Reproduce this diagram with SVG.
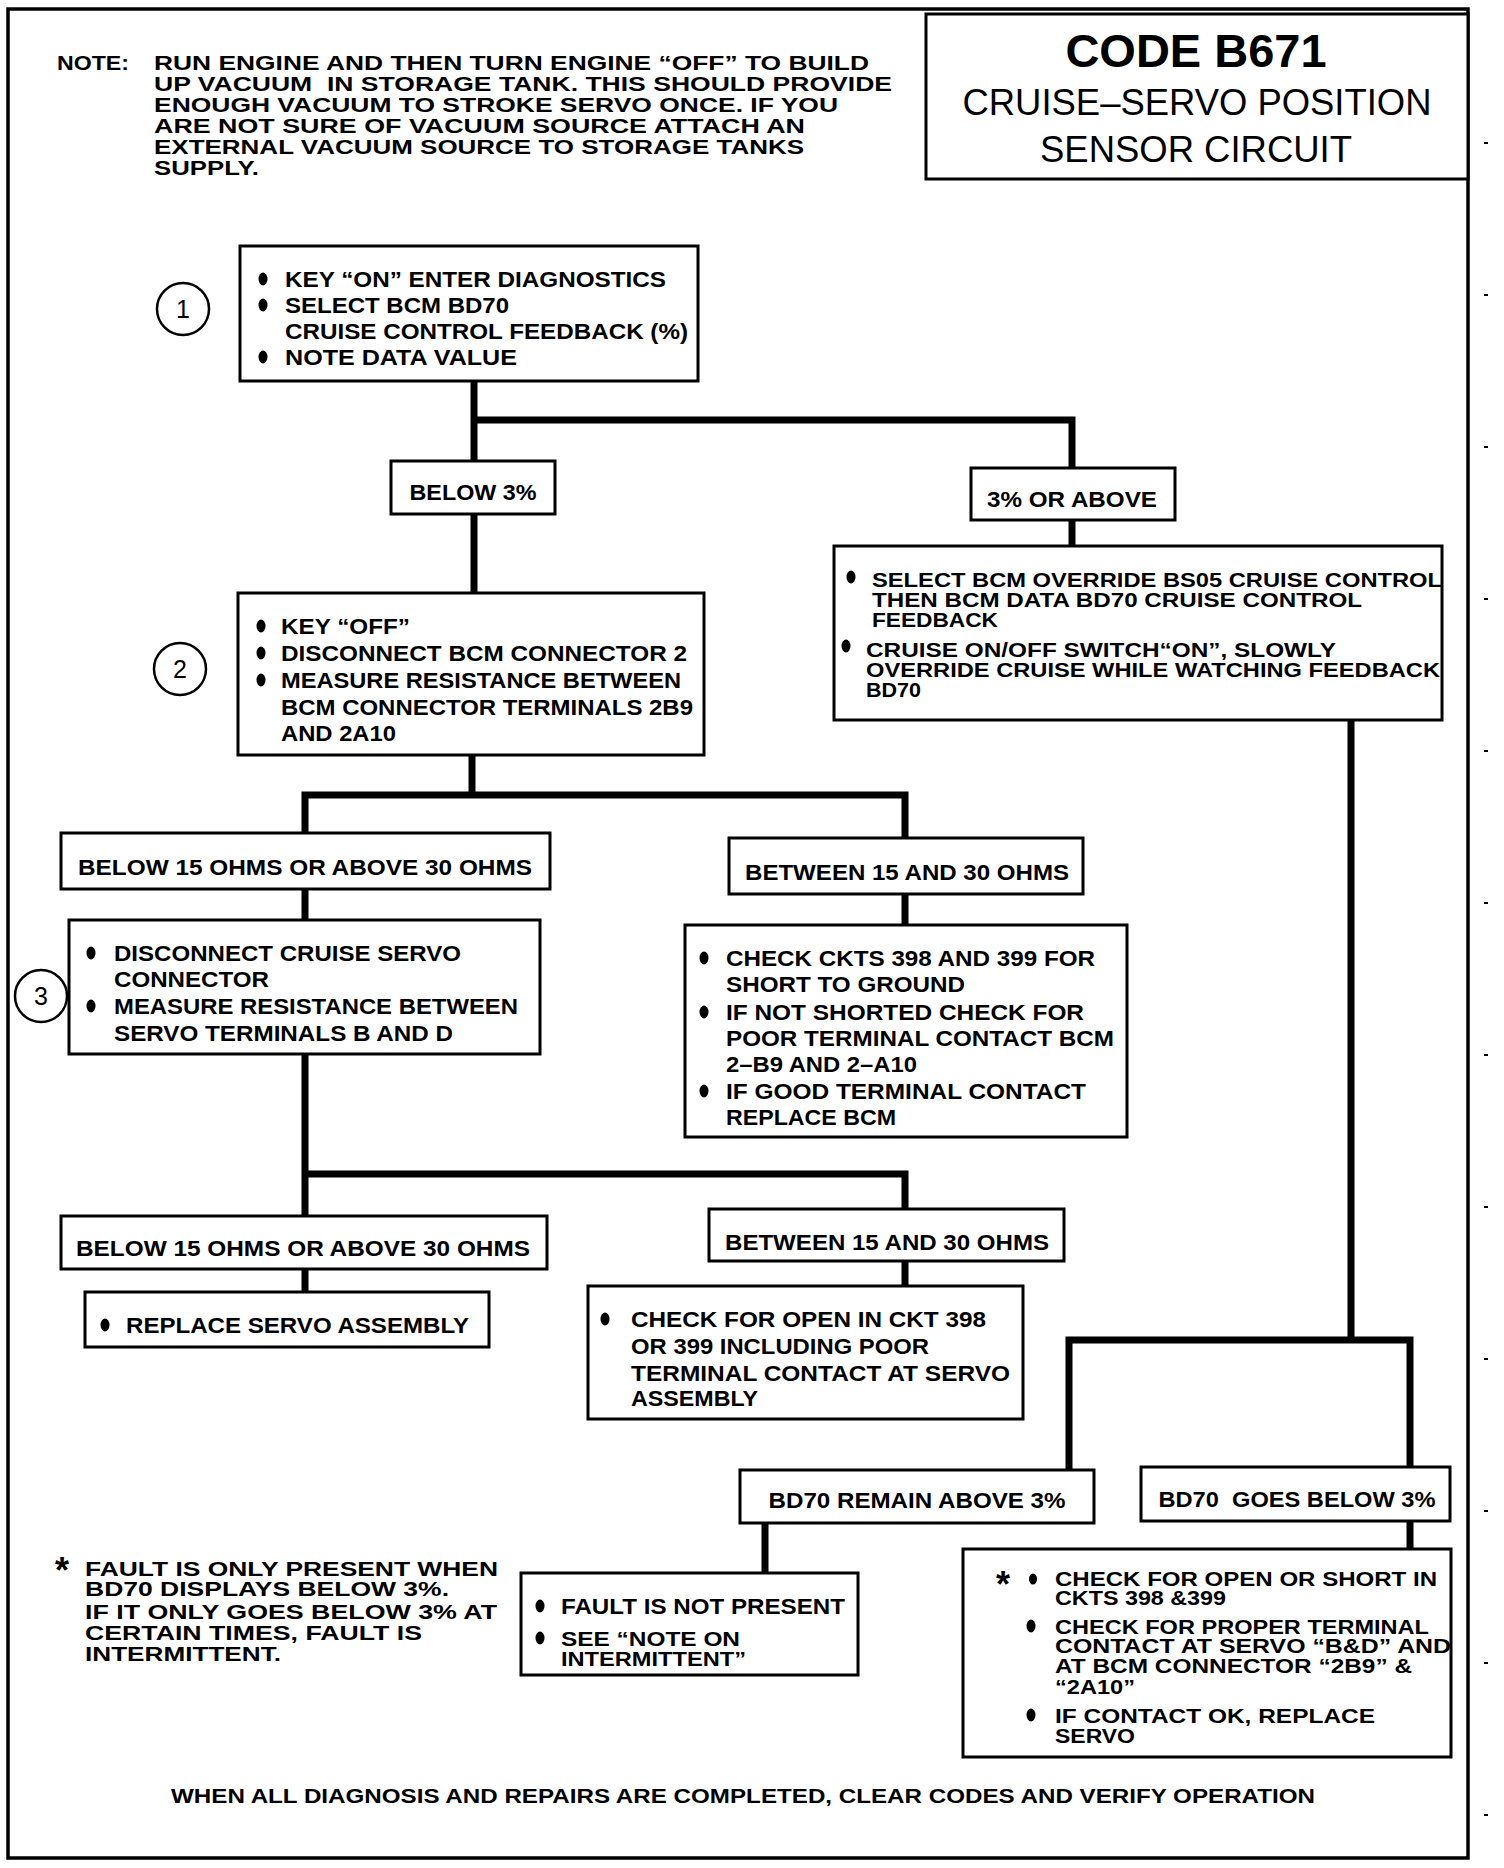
<svg xmlns="http://www.w3.org/2000/svg" width="1504" height="1868" viewBox="0 0 1504 1868">
<style>
.bg{fill:#fff}
.frame{fill:none;stroke:#000;stroke-width:3.5}
.box{fill:#fff;stroke:#000;stroke-width:3}
.conn{fill:none;stroke:#000;stroke-width:7;stroke-linecap:square;stroke-linejoin:miter}
.t{font-family:"Liberation Sans",Arial,Helvetica,sans-serif;font-weight:bold;font-size:22px;fill:#000}
.n{font-size:19.5px}
.s{font-size:20px}
.f{font-size:19.5px}
.big{font-size:47px}
.ast{font-size:36px}
.foot{font-size:21px}
.tr{font-family:"Liberation Sans",Arial,Helvetica,sans-serif;font-weight:normal;fill:#000}
.ttl{font-size:36px}
.num{font-size:25px}
.c{text-anchor:middle}
.circ{fill:#fff;stroke:#000;stroke-width:2.5}
.dot{fill:#000}
.tick{stroke:#000;stroke-width:2}
</style>
<rect class="bg" x="0" y="0" width="1504" height="1868"/>
<rect class="frame" x="8" y="9" width="1460" height="1849"/>
<g id="ticks">
<line class="tick" x1="1484" y1="143" x2="1488" y2="143"/>
<line class="tick" x1="1484" y1="295" x2="1488" y2="295"/>
<line class="tick" x1="1484" y1="447" x2="1488" y2="447"/>
<line class="tick" x1="1484" y1="599" x2="1488" y2="599"/>
<line class="tick" x1="1484" y1="751" x2="1488" y2="751"/>
<line class="tick" x1="1484" y1="903" x2="1488" y2="903"/>
<line class="tick" x1="1484" y1="1055" x2="1488" y2="1055"/>
<line class="tick" x1="1484" y1="1207" x2="1488" y2="1207"/>
<line class="tick" x1="1484" y1="1359" x2="1488" y2="1359"/>
<line class="tick" x1="1484" y1="1511" x2="1488" y2="1511"/>
<line class="tick" x1="1484" y1="1663" x2="1488" y2="1663"/>
<line class="tick" x1="1484" y1="1815" x2="1488" y2="1815"/>
</g>
<g id="title">
<rect class="box" x="926" y="14" width="542" height="165"/>
<text class="t big c" x="1196" y="67">CODE B671</text>
<text class="tr ttl c" x="1197" y="115" textLength="469" lengthAdjust="spacingAndGlyphs">CRUISE–SERVO POSITION</text>
<text class="tr ttl c" x="1196" y="162" textLength="312" lengthAdjust="spacingAndGlyphs">SENSOR CIRCUIT</text>
</g>
<g id="note">
<text class="t n" x="57" y="70" textLength="72" lengthAdjust="spacingAndGlyphs">NOTE:</text>
<text class="t n" x="154" y="70" textLength="715" lengthAdjust="spacingAndGlyphs">RUN ENGINE AND THEN TURN ENGINE “OFF” TO BUILD</text>
<text class="t n" x="154" y="91" textLength="738" lengthAdjust="spacingAndGlyphs">UP VACUUM&#160; IN STORAGE TANK. THIS SHOULD PROVIDE</text>
<text class="t n" x="154" y="112" textLength="684" lengthAdjust="spacingAndGlyphs">ENOUGH VACUUM TO STROKE SERVO ONCE. IF YOU</text>
<text class="t n" x="154" y="133" textLength="651" lengthAdjust="spacingAndGlyphs">ARE NOT SURE OF VACUUM SOURCE ATTACH AN</text>
<text class="t n" x="154" y="154" textLength="650" lengthAdjust="spacingAndGlyphs">EXTERNAL VACUUM SOURCE TO STORAGE TANKS</text>
<text class="t n" x="154" y="175" textLength="105" lengthAdjust="spacingAndGlyphs">SUPPLY.</text>
</g>
<g id="connectors">
<path class="conn" d="M474,381 V461 M474,420 H1072 V468"/>
<path class="conn" d="M474,514 V593"/>
<path class="conn" d="M1072,520 V546"/>
<path class="conn" d="M472,755 V795 M305,833 V795 H905 V838"/>
<path class="conn" d="M305,889 V920"/>
<path class="conn" d="M905,894 V925"/>
<path class="conn" d="M305,1054 V1174 M305,1216 V1174 H905 V1209"/>
<path class="conn" d="M305,1269 V1292"/>
<path class="conn" d="M905,1261 V1286"/>
<path class="conn" d="M1351,720 V1340 M1069,1470 V1340 H1410 V1467"/>
<path class="conn" d="M765,1523 V1573"/>
<path class="conn" d="M1410,1521 V1549"/>
</g>
<g id="step1">
<circle class="circ" cx="183" cy="309" r="26"/>
<text class="tr num c" x="183" y="318">1</text>
<rect class="box" x="240" y="246" width="458" height="135"/>
<ellipse class="dot" cx="263" cy="279" rx="4.5" ry="6.5"/>
<ellipse class="dot" cx="263" cy="305" rx="4.5" ry="6.5"/>
<ellipse class="dot" cx="263" cy="357" rx="4.5" ry="6.5"/>
<text class="t" x="285" y="287" textLength="381" lengthAdjust="spacingAndGlyphs">KEY “ON” ENTER DIAGNOSTICS</text>
<text class="t" x="285" y="313" textLength="224" lengthAdjust="spacingAndGlyphs">SELECT BCM BD70</text>
<text class="t" x="285" y="339" textLength="403" lengthAdjust="spacingAndGlyphs">CRUISE CONTROL FEEDBACK (%)</text>
<text class="t" x="285" y="365" textLength="232" lengthAdjust="spacingAndGlyphs">NOTE DATA VALUE</text>
</g>
<g id="below3">
<rect class="box" x="391" y="461" width="164" height="53"/>
<text class="t c" x="473" y="500" textLength="127" lengthAdjust="spacingAndGlyphs">BELOW 3%</text>
</g>
<g id="above3">
<rect class="box" x="971" y="468" width="204" height="52"/>
<text class="t c" x="1072" y="507" textLength="170" lengthAdjust="spacingAndGlyphs">3% OR ABOVE</text>
</g>
<g id="step2">
<circle class="circ" cx="180" cy="669" r="26"/>
<text class="tr num c" x="180" y="678">2</text>
<rect class="box" x="238" y="593" width="466" height="162"/>
<ellipse class="dot" cx="261" cy="626" rx="4.5" ry="6.5"/>
<ellipse class="dot" cx="261" cy="653" rx="4.5" ry="6.5"/>
<ellipse class="dot" cx="261" cy="680" rx="4.5" ry="6.5"/>
<text class="t" x="281" y="634" textLength="129" lengthAdjust="spacingAndGlyphs">KEY “OFF”</text>
<text class="t" x="281" y="661" textLength="406" lengthAdjust="spacingAndGlyphs">DISCONNECT BCM CONNECTOR 2</text>
<text class="t" x="281" y="688" textLength="400" lengthAdjust="spacingAndGlyphs">MEASURE RESISTANCE BETWEEN</text>
<text class="t" x="281" y="715" textLength="412" lengthAdjust="spacingAndGlyphs">BCM CONNECTOR TERMINALS 2B9</text>
<text class="t" x="281" y="741" textLength="115" lengthAdjust="spacingAndGlyphs">AND 2A10</text>
</g>
<g id="override">
<rect class="box" x="834" y="546" width="608" height="174"/>
<ellipse class="dot" cx="851" cy="577" rx="4.5" ry="6.5"/>
<ellipse class="dot" cx="846" cy="646" rx="4.5" ry="6.5"/>
<text class="t s" x="872" y="587" textLength="570" lengthAdjust="spacingAndGlyphs">SELECT BCM OVERRIDE BS05 CRUISE CONTROL</text>
<text class="t s" x="872" y="607" textLength="490" lengthAdjust="spacingAndGlyphs">THEN BCM DATA BD70 CRUISE CONTROL</text>
<text class="t s" x="872" y="627" textLength="126" lengthAdjust="spacingAndGlyphs">FEEDBACK</text>
<text class="t s" x="866" y="657" textLength="470" lengthAdjust="spacingAndGlyphs">CRUISE ON/OFF SWITCH“ON”, SLOWLY</text>
<text class="t s" x="866" y="677" textLength="574" lengthAdjust="spacingAndGlyphs">OVERRIDE CRUISE WHILE WATCHING FEEDBACK</text>
<text class="t s" x="866" y="697" textLength="55" lengthAdjust="spacingAndGlyphs">BD70</text>
</g>
<g id="ohms1-out">
<rect class="box" x="61" y="833" width="489" height="56"/>
<text class="t c" x="305" y="875" textLength="454" lengthAdjust="spacingAndGlyphs">BELOW 15 OHMS OR ABOVE 30 OHMS</text>
</g>
<g id="ohms1-in">
<rect class="box" x="729" y="838" width="354" height="56"/>
<text class="t c" x="907" y="880" textLength="324" lengthAdjust="spacingAndGlyphs">BETWEEN 15 AND 30 OHMS</text>
</g>
<g id="step3">
<rect class="box" x="69" y="920" width="471" height="134"/>
<circle class="circ" cx="41" cy="996" r="26"/>
<text class="tr num c" x="41" y="1005">3</text>
<ellipse class="dot" cx="91" cy="953" rx="4.5" ry="6.5"/>
<ellipse class="dot" cx="91" cy="1006" rx="4.5" ry="6.5"/>
<text class="t" x="114" y="961" textLength="347" lengthAdjust="spacingAndGlyphs">DISCONNECT CRUISE SERVO</text>
<text class="t" x="114" y="987" textLength="155" lengthAdjust="spacingAndGlyphs">CONNECTOR</text>
<text class="t" x="114" y="1014" textLength="404" lengthAdjust="spacingAndGlyphs">MEASURE RESISTANCE BETWEEN</text>
<text class="t" x="114" y="1041" textLength="339" lengthAdjust="spacingAndGlyphs">SERVO TERMINALS B AND D</text>
</g>
<g id="check-ckts">
<rect class="box" x="685" y="925" width="442" height="212"/>
<ellipse class="dot" cx="704" cy="958" rx="4.5" ry="6.5"/>
<ellipse class="dot" cx="704" cy="1012" rx="4.5" ry="6.5"/>
<ellipse class="dot" cx="704" cy="1091" rx="4.5" ry="6.5"/>
<text class="t" x="726" y="966" textLength="369" lengthAdjust="spacingAndGlyphs">CHECK CKTS 398 AND 399 FOR</text>
<text class="t" x="726" y="992" textLength="239" lengthAdjust="spacingAndGlyphs">SHORT TO GROUND</text>
<text class="t" x="726" y="1020" textLength="358" lengthAdjust="spacingAndGlyphs">IF NOT SHORTED CHECK FOR</text>
<text class="t" x="726" y="1046" textLength="388" lengthAdjust="spacingAndGlyphs">POOR TERMINAL CONTACT BCM</text>
<text class="t" x="726" y="1072" textLength="191" lengthAdjust="spacingAndGlyphs">2–B9 AND 2–A10</text>
<text class="t" x="726" y="1099" textLength="360" lengthAdjust="spacingAndGlyphs">IF GOOD TERMINAL CONTACT</text>
<text class="t" x="726" y="1125" textLength="170" lengthAdjust="spacingAndGlyphs">REPLACE BCM</text>
</g>
<g id="ohms2-out">
<rect class="box" x="61" y="1216" width="486" height="53"/>
<text class="t c" x="303" y="1256" textLength="454" lengthAdjust="spacingAndGlyphs">BELOW 15 OHMS OR ABOVE 30 OHMS</text>
</g>
<g id="ohms2-in">
<rect class="box" x="709" y="1209" width="355" height="52"/>
<text class="t c" x="887" y="1250" textLength="324" lengthAdjust="spacingAndGlyphs">BETWEEN 15 AND 30 OHMS</text>
</g>
<g id="replace-servo">
<rect class="box" x="85" y="1292" width="404" height="55"/>
<ellipse class="dot" cx="105" cy="1325" rx="4.5" ry="6.5"/>
<text class="t" x="126" y="1333" textLength="343" lengthAdjust="spacingAndGlyphs">REPLACE SERVO ASSEMBLY</text>
</g>
<g id="check-open">
<rect class="box" x="588" y="1286" width="435" height="133"/>
<ellipse class="dot" cx="605" cy="1319" rx="4.5" ry="6.5"/>
<text class="t" x="631" y="1327" textLength="355" lengthAdjust="spacingAndGlyphs">CHECK FOR OPEN IN CKT 398</text>
<text class="t" x="631" y="1354" textLength="298" lengthAdjust="spacingAndGlyphs">OR 399 INCLUDING POOR</text>
<text class="t" x="631" y="1381" textLength="379" lengthAdjust="spacingAndGlyphs">TERMINAL CONTACT AT SERVO</text>
<text class="t" x="631" y="1406" textLength="127" lengthAdjust="spacingAndGlyphs">ASSEMBLY</text>
</g>
<g id="remain-above">
<rect class="box" x="740" y="1470" width="354" height="53"/>
<text class="t c" x="917" y="1508" textLength="297" lengthAdjust="spacingAndGlyphs">BD70 REMAIN ABOVE 3%</text>
</g>
<g id="goes-below">
<rect class="box" x="1141" y="1467" width="309" height="54"/>
<text class="t c" x="1297" y="1507" textLength="277" lengthAdjust="spacingAndGlyphs">BD70&#160; GOES BELOW 3%</text>
</g>
<g id="not-present">
<rect class="box" x="521" y="1573" width="337" height="102"/>
<ellipse class="dot" cx="540" cy="1606" rx="4.5" ry="6.5"/>
<ellipse class="dot" cx="540" cy="1638" rx="4.5" ry="6.5"/>
<text class="t" x="561" y="1614" textLength="284" lengthAdjust="spacingAndGlyphs">FAULT IS NOT PRESENT</text>
<text class="t s" x="561" y="1646" textLength="179" lengthAdjust="spacingAndGlyphs">SEE “NOTE ON</text>
<text class="t s" x="561" y="1666" textLength="185" lengthAdjust="spacingAndGlyphs">INTERMITTENT”</text>
</g>
<g id="check-short">
<rect class="box" x="963" y="1549" width="488" height="208"/>
<text class="t ast" x="996" y="1597">*</text>
<ellipse class="dot" cx="1033" cy="1579" rx="4" ry="5.5"/>
<ellipse class="dot" cx="1031" cy="1626" rx="4.5" ry="6.5"/>
<ellipse class="dot" cx="1031" cy="1715" rx="4.5" ry="6.5"/>
<text class="t s" x="1055" y="1586" textLength="382" lengthAdjust="spacingAndGlyphs">CHECK FOR OPEN OR SHORT IN</text>
<text class="t s" x="1055" y="1605" textLength="171" lengthAdjust="spacingAndGlyphs">CKTS 398 &amp;399</text>
<text class="t s" x="1055" y="1634" textLength="374" lengthAdjust="spacingAndGlyphs">CHECK FOR PROPER TERMINAL</text>
<text class="t s" x="1055" y="1653" textLength="396" lengthAdjust="spacingAndGlyphs">CONTACT AT SERVO “B&amp;D” AND</text>
<text class="t s" x="1055" y="1673" textLength="357" lengthAdjust="spacingAndGlyphs">AT BCM CONNECTOR “2B9” &amp;</text>
<text class="t s" x="1055" y="1694" textLength="80" lengthAdjust="spacingAndGlyphs">“2A10”</text>
<text class="t s" x="1055" y="1723" textLength="320" lengthAdjust="spacingAndGlyphs">IF CONTACT OK, REPLACE</text>
<text class="t s" x="1055" y="1743" textLength="80" lengthAdjust="spacingAndGlyphs">SERVO</text>
</g>
<g id="footnote">
<text class="t ast" x="55" y="1583">*</text>
<text class="t f" x="85" y="1576" textLength="413" lengthAdjust="spacingAndGlyphs">FAULT IS ONLY PRESENT WHEN</text>
<text class="t f" x="85" y="1596" textLength="364" lengthAdjust="spacingAndGlyphs">BD70 DISPLAYS BELOW 3%.</text>
<text class="t f" x="85" y="1619" textLength="412" lengthAdjust="spacingAndGlyphs">IF IT ONLY GOES BELOW 3% AT</text>
<text class="t f" x="85" y="1640" textLength="337" lengthAdjust="spacingAndGlyphs">CERTAIN TIMES, FAULT IS</text>
<text class="t f" x="85" y="1661" textLength="196" lengthAdjust="spacingAndGlyphs">INTERMITTENT.</text>
</g>
<g id="footer">
<text class="t foot" x="171" y="1803" textLength="1144" lengthAdjust="spacingAndGlyphs">WHEN ALL DIAGNOSIS AND REPAIRS ARE COMPLETED, CLEAR CODES AND VERIFY OPERATION</text>
</g>
</svg>
